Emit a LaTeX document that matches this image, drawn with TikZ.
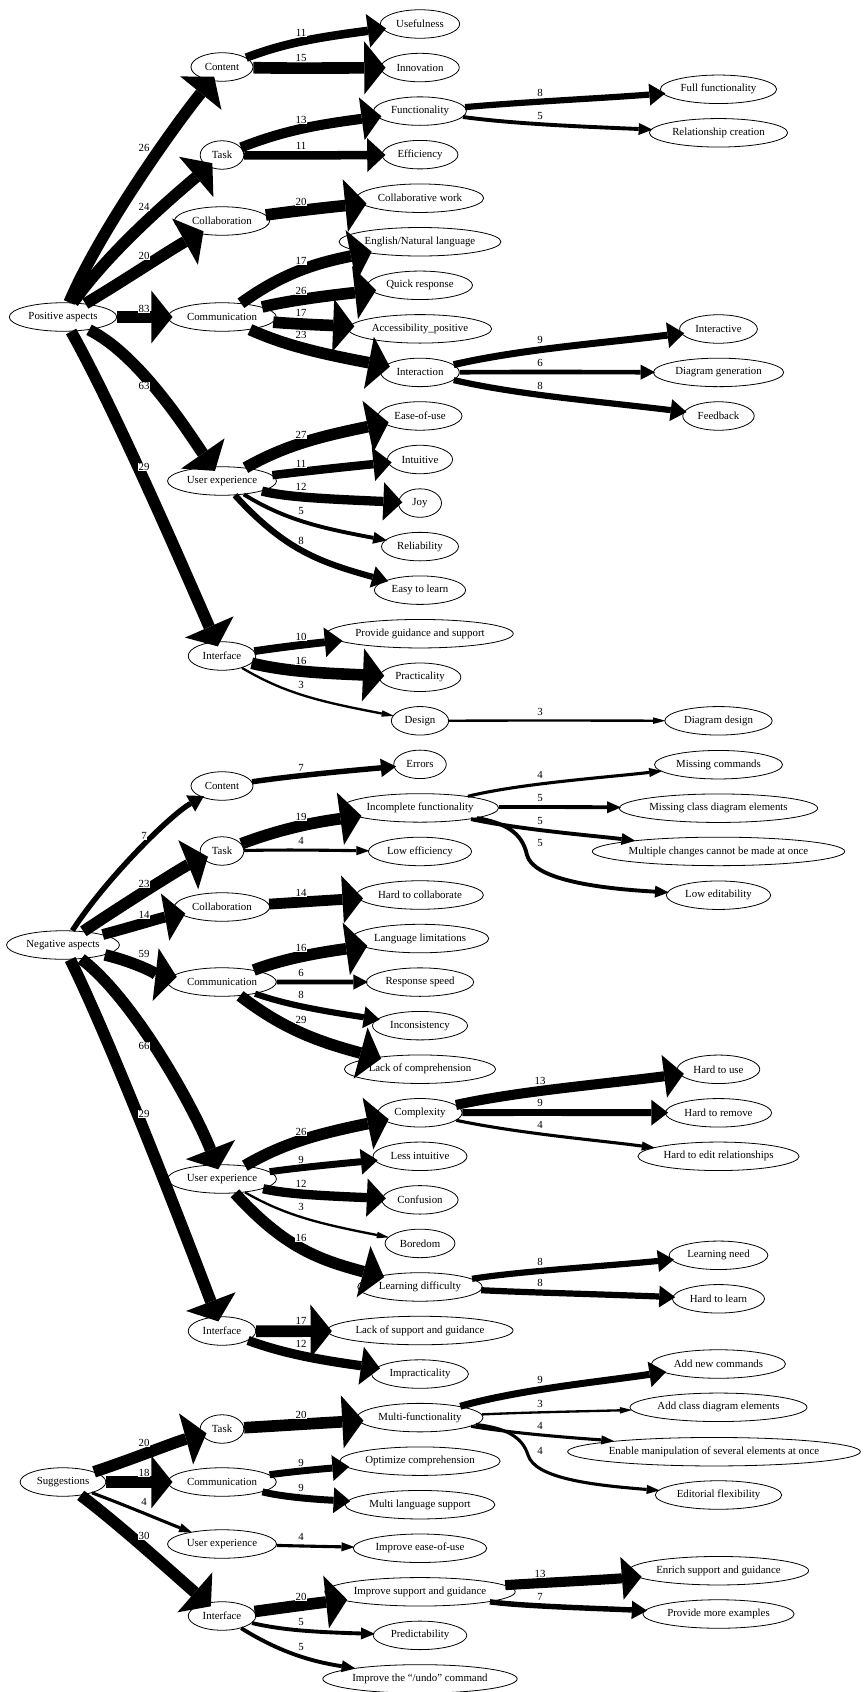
\documentclass[tikz,border=0pt]{standalone}
\usepackage{fontspec}
\setmainfont{Liberation Serif}
\usetikzlibrary{arrows.meta,shapes.geometric}
\pgfdeclarelayer{fg}
\pgfsetlayers{main,fg}
\newdimen\gvwd
\newcommand\gvfont{\fontsize{10.85}{13}\selectfont}
\tikzset{
  gvnode/.style={ellipse, draw, line width=0.8pt, inner xsep=-3pt, inner ysep=0pt, minimum height=28.5pt, font=\gvfont},
  gvlabel/.style={fill=white, inner sep=0.6pt, font=\gvfont},
  wt/.code={%
    \pgfmathsetmacro\wtc{min(#1,15)}%
    \pgfmathsetmacro\wtlw{0.775*\wtc}%
    \pgfmathsetmacro\wtal{10+0.75*\wtc}%
    \pgfmathsetmacro\wtaw{1.855*\wtc+0.112*\wtc*\wtc}%
    \pgfmathsetmacro\wtsh{-0.45*\wtlw}%
    \pgfkeysalso{line width=\wtlw pt, shorten >=\wtsh pt, -{Triangle[length=\wtal pt, width=\wtaw pt, line width=0pt]}}%
  }
}
\newcommand\gvnd[3]{%
  \pgfinterruptpicture\setbox0=\hbox{\gvfont #3}\global\gvwd=\wd0 \endpgfinterruptpicture
  \pgfmathsetmacro\gvmw{max(1.311*\the\gvwd+17,43)}%
  \node[gvnode, minimum width=\gvmw pt] (#1) at (#2) {#3};%
}
\newcommand\gvlink[7]{%
  \draw[wt=#3] (#1) .. controls (#6) and (#7) .. (#2);%
  \begin{pgfonlayer}{fg}\node[gvlabel] (lab-#1-#2) at (#4,#5) {#3};\end{pgfonlayer}%
}
\newcommand\fanA[5]{%
  \pgfmathsetmacro\fanwy{#4+8+0.155*min(#3,15)}%
  \pgfmathsetmacro\fanwz{\fanwy+0.3*(#5-\fanwy)}%
  \gvlink{#1}{#2}{#3}{301}{#4}{285,\fanwy}{320,\fanwz}%
}
\newcommand\fanB[5]{%
  \pgfmathsetmacro\fanwy{#4+8+0.155*min(#3,15)}%
  \pgfmathsetmacro\fanwz{\fanwy+0.3*(#5-\fanwy)}%
  \gvlink{#1}{#2}{#3}{540}{#4}{520,\fanwy}{600,\fanwz}%
}
\begin{document}
\begin{tikzpicture}[x=1pt,y=-1pt]
\useasboundingbox (0,0) rectangle (865,1692);
% column 0
\gvnd{posa}{63,317}{Positive aspects}
\gvnd{nega}{63,945}{Negative aspects}
\gvnd{sugg}{63,1482}{Suggestions}
% column 1
\gvnd{pcont}{222,67}{Content}
\gvnd{ptask}{222,155}{Task}
\gvnd{pcoll}{222,221}{Collaboration}
\gvnd{pcomm}{222,317}{Communication}
\gvnd{pux}{222,481}{User experience}
\gvnd{pint}{222,656}{Interface}
\gvnd{ncont}{222,786}{Content}
\gvnd{ntask}{222,851}{Task}
\gvnd{ncoll}{222,907}{Collaboration}
\gvnd{ncomm}{222,982}{Communication}
\gvnd{nux}{222,1179}{User experience}
\gvnd{nint}{222,1331}{Interface}
\gvnd{stask}{222,1429}{Task}
\gvnd{scomm}{222,1482}{Communication}
\gvnd{sux}{222,1544}{User experience}
\gvnd{sint}{222,1616}{Interface}
% column 2
\gvnd{usef}{420,24}{Usefulness}
\gvnd{innov}{420,67.55}{Innovation}
\gvnd{func}{420,111.1}{Functionality}
\gvnd{effic}{420,154.65}{Efficiency}
\gvnd{collw}{420,198.2}{Collaborative work}
\gvnd{engl}{420,241.75}{English/Natural language}
\gvnd{quick}{420,285.3}{Quick response}
\gvnd{access}{420,328.85}{Accessibility\_positive}
\gvnd{interac}{420,372.4}{Interaction}
\gvnd{ease}{420,415.95}{Ease-of-use}
\gvnd{intuit}{420,459.5}{Intuitive}
\gvnd{joy}{420,503.05}{Joy}
\gvnd{reliab}{420,546.6}{Reliability}
\gvnd{easyl}{420,590.15}{Easy to learn}
\gvnd{provg}{420,633.7}{Provide guidance and support}
\gvnd{pract}{420,677.25}{Practicality}
\gvnd{design}{420,720.8}{Design}
\gvnd{errors}{420,764.35}{Errors}
\gvnd{incf}{420,807.9}{Incomplete functionality}
\gvnd{loweff}{420,851.45}{Low efficiency}
\gvnd{hardc}{420,895}{Hard to collaborate}
\gvnd{langl}{420,938.55}{Language limitations}
\gvnd{resps}{420,982.1}{Response speed}
\gvnd{incons}{420,1025.65}{Inconsistency}
\gvnd{lackc}{420,1069.2}{Lack of comprehension}
\gvnd{compl}{420,1112.75}{Complexity}
\gvnd{lessi}{420,1156.3}{Less intuitive}
\gvnd{confu}{420,1199.85}{Confusion}
\gvnd{bored}{420,1243.4}{Boredom}
\gvnd{learnd}{420,1286.95}{Learning difficulty}
\gvnd{lacks}{420,1330.5}{Lack of support and guidance}
\gvnd{impra}{420,1374.05}{Impracticality}
\gvnd{multif}{420,1417.6}{Multi-functionality}
\gvnd{optc}{420,1461.15}{Optimize comprehension}
\gvnd{multil}{420,1504.7}{Multi language support}
\gvnd{impe}{420,1548.25}{Improve ease-of-use}
\gvnd{imps}{420,1591.8}{Improve support and guidance}
\gvnd{predi}{420,1635.35}{Predictability}
\gvnd{impu}{420,1678.9}{Improve the “/undo” command}
% column 3
\gvnd{fullf}{718.5,89.3}{Full functionality}
\gvnd{relc}{718.5,132.8}{Relationship creation}
\gvnd{interv}{718.5,329}{Interactive}
\gvnd{diagg}{718.5,372.4}{Diagram generation}
\gvnd{feedb}{718.5,416}{Feedback}
\gvnd{diagd}{718.5,720.8}{Diagram design}
\gvnd{missc}{718.5,764.7}{Missing commands}
\gvnd{misscl}{718.5,808.2}{Missing class diagram elements}
\gvnd{multc}{718.5,851.4}{Multiple changes cannot be made at once}
\gvnd{lowed}{718.5,895.2}{Low editability}
\gvnd{hardu}{718.5,1069.3}{Hard to use}
\gvnd{hardr}{718.5,1112.8}{Hard to remove}
\gvnd{harde}{718.5,1156.3}{Hard to edit relationships}
\gvnd{learnn}{718.5,1255.3}{Learning need}
\gvnd{hardl}{718.5,1298.8}{Hard to learn}
\gvnd{addc}{718.5,1364}{Add new commands}
\gvnd{addcl}{718.5,1407.3}{Add class diagram elements}
\gvnd{enab}{714,1451.7}{Enable manipulation of several elements at once}
\gvnd{edflex}{718.5,1495}{Editorial flexibility}
\gvnd{enri}{718.5,1570.7}{Enrich support and guidance}
\gvnd{morex}{718.5,1614}{Provide more examples}
% ---- positive aspects
\gvlink{posa}{pcont}{26}{144}{148}{100,230}{175,125}
\gvlink{posa}{ptask}{24}{144}{207}{110,250}{175,195}
\gvlink{posa}{pcoll}{20}{144}{256}{125,280}{170,250}
\gvlink{posa}{pcomm}{83}{144}{309}{130,317}{160,317}
\gvlink{posa}{pux}{63}{144}{386}{140,355}{190,435}
\gvlink{posa}{pint}{29}{144}{467}{115,410}{180,560}
\fanA{pcont}{usef}{11}{33}{24}
\fanA{pcont}{innov}{15}{58}{67.55}
\fanA{ptask}{func}{13}{120}{111.1}
\fanA{ptask}{effic}{11}{146}{154.65}
\fanA{pcoll}{collw}{20}{202}{198.2}
\fanA{pcomm}{engl}{17}{261}{241.75}
\fanA{pcomm}{quick}{26}{291}{285.3}
\fanA{pcomm}{access}{17}{313}{328.85}
\fanA{pcomm}{interac}{23}{335}{372.4}
\fanA{pux}{ease}{27}{435}{415.95}
\fanA{pux}{intuit}{11}{464}{459.5}
\fanA{pux}{joy}{12}{487}{503.05}
\fanA{pux}{reliab}{5}{511}{546.6}
\fanA{pux}{easyl}{8}{541}{590.15}
\fanA{pint}{provg}{10}{637}{633.7}
\fanA{pint}{pract}{16}{661}{677.25}
\fanA{pint}{design}{3}{685}{720.8}
\fanB{func}{fullf}{8}{93}{89.3}
\fanB{func}{relc}{5}{116}{132.8}
\fanB{interac}{interv}{9}{340}{329}
\fanB{interac}{diagg}{6}{363}{372.4}
\fanB{interac}{feedb}{8}{386}{416}
\fanB{design}{diagd}{3}{712}{720.8}
% ---- negative aspects
\gvlink{nega}{ncont}{7}{144}{836}{105,880}{170,815}
\gvlink{nega}{ntask}{23}{144}{884}{130,900}{185,866}
\gvlink{nega}{ncoll}{14}{144}{915}{135,926}{160,918}
\gvlink{nega}{ncomm}{59}{144}{954}{135,962}{160,975}
\gvlink{nega}{nux}{66}{144}{1046}{135,1000}{195,1110}
\gvlink{nega}{nint}{29}{144}{1114}{110,1040}{180,1220}
\fanA{ncont}{errors}{7}{768}{764.35}
\fanA{ntask}{incf}{19}{817}{807.9}
\fanA{ntask}{loweff}{4}{841}{851.45}
\fanA{ncoll}{hardc}{14}{893}{895}
\fanA{ncomm}{langl}{16}{948}{938.55}
\fanA{ncomm}{resps}{6}{973}{982.1}
\fanA{ncomm}{incons}{8}{995}{1025.65}
\fanA{ncomm}{lackc}{29}{1020}{1069.2}
\fanA{nux}{compl}{26}{1132}{1112.75}
\fanA{nux}{lessi}{9}{1160}{1156.3}
\fanA{nux}{confu}{12}{1184}{1199.85}
\fanA{nux}{bored}{3}{1207}{1243.4}
\fanA{nux}{learnd}{16}{1238}{1286.95}
\fanA{nint}{lacks}{17}{1321}{1330.5}
\fanA{nint}{impra}{12}{1344}{1374.05}
\fanB{incf}{missc}{4}{775}{764.7}
\fanB{incf}{misscl}{5}{798}{808.2}
\fanB{incf}{multc}{5}{821}{851.4}
\draw[wt=5] (incf) .. controls (505,823) and (522,832) .. (527,855) .. controls (533,878) and (590,888) .. (lowed);
\begin{pgfonlayer}{fg}\node[gvlabel] (lab-incf-lowed) at (540,843) {5};\end{pgfonlayer}
\fanB{compl}{hardu}{13}{1081}{1069.3}
\fanB{compl}{hardr}{9}{1103}{1112.8}
\fanB{compl}{harde}{4}{1125}{1156.3}
\fanB{learnd}{learnn}{8}{1262}{1255.3}
\fanB{learnd}{hardl}{8}{1283}{1298.8}
% ---- suggestions
\gvlink{sugg}{stask}{20}{144}{1443}{130,1460}{175,1442}
\gvlink{sugg}{scomm}{18}{144}{1473}{130,1482}{160,1482}
\gvlink{sugg}{sux}{4}{144}{1502}{130,1507}{165,1522}
\gvlink{sugg}{sint}{30}{144}{1536}{120,1525}{175,1575}
\fanA{stask}{multif}{20}{1415}{1417.6}
\fanA{scomm}{optc}{9}{1463}{1461.15}
\fanA{scomm}{multil}{9}{1488}{1504.7}
\fanA{sux}{impe}{4}{1537}{1548.25}
\fanA{sint}{imps}{20}{1597}{1591.8}
\fanA{sint}{predi}{5}{1622}{1635.35}
\fanA{sint}{impu}{5}{1647}{1678.9}
\fanB{multif}{addc}{9}{1380}{1364}
\fanB{multif}{addcl}{3}{1404}{1407.3}
\fanB{multif}{enab}{4}{1426}{1451.7}
\draw[wt=4] (multif) .. controls (505,1428) and (522,1436) .. (528,1455) .. controls (535,1478) and (590,1485) .. (edflex);
\begin{pgfonlayer}{fg}\node[gvlabel] (lab-multif-edflex) at (540,1451) {4};\end{pgfonlayer}
\fanB{imps}{enri}{13}{1574}{1570.7}
\fanB{imps}{morex}{7}{1597}{1614}
\end{tikzpicture}
\end{document}
